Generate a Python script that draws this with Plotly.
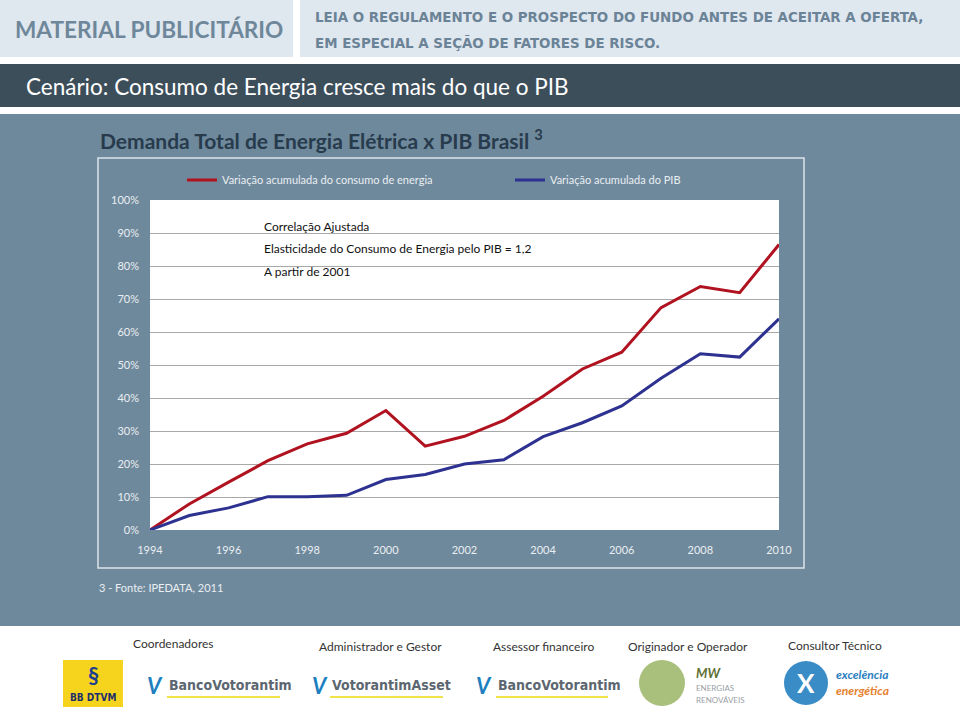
import plotly.graph_objects as go

# ---------------- data ----------------
years = list(range(1994, 2011))
energia = [0, 7.9, 14.5, 21.0, 26.1, 29.3, 36.2, 25.4, 28.4, 33.2, 40.5, 48.8, 53.9, 67.4, 73.8, 71.9, 86.5]
pib = [0, 4.4, 6.7, 10.1, 10.1, 10.5, 15.3, 16.8, 20.0, 21.3, 28.3, 32.5, 37.6, 46.0, 53.4, 52.4, 64.0]
series_names = ["Variação acumulada do consumo de energia", "Variação acumulada do PIB"]
y_tick_vals = list(range(0, 101, 10))
y_tick_text = [f"{v}%" for v in y_tick_vals]
grid_vals = list(range(10, 100, 10))
x_tick_vals = list(range(1994, 2011, 2))
notes = ["Correlação Ajustada", "Elasticidade do Consumo de Energia pelo PIB = 1,2", "A partir de 2001"]

W, H = 960, 710
def px(x):
    return x / W
def py(y):
    return 1 - y / H

FONT = "Lato"
NARROW = "DejaVu Sans Condensed"
PANEL = "#6f899c"
HEAD_BG = "#dfe7ef"
DARK = "#3d4e5b"
LIGHT_TXT = "#e9eef2"
RED = "#b01220"
BLUE = "#2d3190"

fig = go.Figure()
fig.add_trace(go.Scatter(x=years, y=energia, mode="lines", name=series_names[0],
                         line=dict(color=RED, width=3), yaxis="y"))
fig.add_trace(go.Scatter(x=years, y=pib, mode="lines", name=series_names[1],
                         line=dict(color=BLUE, width=3), yaxis="y2"))

shapes = []
def rect(x0, y0, x1, y1, fill, line=None, lw=0):
    shapes.append(dict(type="rect", xref="paper", yref="paper", x0=px(x0), x1=px(x1),
                       y0=py(y1), y1=py(y0), fillcolor=fill,
                       line=dict(color=line or "rgba(0,0,0,0)", width=lw), layer="below"))

# header
rect(0, 0, 293, 57, HEAD_BG)
rect(300, 0, 960, 57, HEAD_BG)
rect(0, 64, 960, 107, DARK)
# steel panel
rect(0, 114, 960, 626, PANEL)
# chart outline box
rect(98, 158, 804, 568, "rgba(0,0,0,0)", line="#dce4ea", lw=1.5)
# white plot area
rect(150, 200, 779, 530, "#ffffff")

# footer logos (approximations)
rect(63, 660, 123, 707, "#f6d31c")
shapes.append(dict(type="circle", xref="paper", yref="paper", x0=px(639), x1=px(685),
                   y0=py(706), y1=py(660), fillcolor="#a9bf7c", line=dict(width=0), layer="below"))
shapes.append(dict(type="circle", xref="paper", yref="paper", x0=px(784), x1=px(828),
                   y0=py(705), y1=py(661), fillcolor="#3a8cc6", line=dict(width=0), layer="below"))
shapes.append(dict(type="path", xref="paper", yref="paper",
                   path=f"M {px(806)} {py(661)} A 1 1 0 0 1 {px(806)} {py(705)} Z",
                   fillcolor="#e8873a", line=dict(width=0), layer="below"))
for x0, x1 in [(167, 280), (330, 443), (496, 608)]:
    rect(x0, 696, x1, 698, "#f1e44a")

annotations = []
def text(x, y, s, size, color, family=FONT, xanchor="left", bold=False, italic=False, yanchor="middle"):
    annotations.append(dict(x=px(x), y=py(y), xref="paper", yref="paper", text=s,
                            showarrow=False, xanchor=xanchor, yanchor=yanchor,
                            font=dict(size=size, color=color, family=family,
                                      weight="bold" if bold else "normal",
                                      style="italic" if italic else "normal")))

text(13, 30, "MATERIAL PUBLICITÁRIO", 22.6, "#6f879a", bold=True)
text(313, 17, "LEIA O REGULAMENTO E O PROSPECTO DO FUNDO ANTES DE ACEITAR A OFERTA,", 14.9, "#6b8396", family=NARROW, bold=True)
text(313, 43, "EM ESPECIAL A SEÇÃO DE FATORES DE RISCO.", 14.9, "#6b8396", family=NARROW, bold=True)
text(24, 86, "Cenário: Consumo de Energia cresce mais do que o PIB", 22.5, "#ffffff")
text(98, 139, "Demanda Total de Energia Elétrica x PIB Brasil <sup>3</sup>", 21, "#273b4c", bold=True)
text(97, 587, "3 - Fonte: IPEDATA, 2011", 11, LIGHT_TXT)

for i, s in enumerate(notes):
    text(262, 226 + 23 * i, s, 12, "#111111")

# footer texts
text(173, 643, "Coordenadores", 12, "#333333", xanchor="center")
text(380, 646, "Administrador e Gestor", 12, "#333333", xanchor="center")
text(543, 646, "Assessor financeiro", 12, "#333333", xanchor="center")
text(688, 646, "Originador e Operador", 12, "#333333", xanchor="center")
text(835, 645, "Consultor Técnico", 12, "#333333", xanchor="center")

text(93, 697, "BB DTVM", 10, "#1d2f6b", xanchor="center", bold=True, family=NARROW)
text(93, 675, "§", 22, "#1d3f8f", xanchor="center", bold=True)
for vx, tx, s in [(145, 167, "BancoVotorantim"), (310, 330, "VotorantimAsset"), (474, 496, "BancoVotorantim")]:
    text(vx, 685, "V", 22, "#1d7fbf", bold=True, italic=True)
    text(tx, 685, s, 14, "#5c6670", bold=True, family=NARROW)
text(694, 673, "MW", 13, "#5d7035", bold=True, italic=True)
text(694, 688, "ENERGIAS", 8, "#9aa0a6")
text(694, 700, "RENOVÁVEIS", 8, "#9aa0a6")
text(806, 683, "X", 26, "#ffffff", xanchor="center", bold=True)
text(834, 674, "excelência", 12, "#2c7fbf", bold=True, italic=True)
text(834, 690, "energética", 12, "#e57f2c", bold=True, italic=True)

fig.update_layout(
    width=W, height=H, autosize=False,
    margin=dict(l=0, r=0, t=0, b=0, pad=0, autoexpand=False),
    paper_bgcolor="#ffffff", plot_bgcolor="rgba(0,0,0,0)",
    shapes=shapes, annotations=annotations,
    font=dict(family=FONT, size=11, color=LIGHT_TXT),
    showlegend=True,
    legend=dict(orientation="h", x=px(182), y=py(180), xanchor="left", yanchor="middle",
                bgcolor="rgba(0,0,0,0)", font=dict(size=11, color=LIGHT_TXT, family=FONT),
                entrywidth=283, entrywidthmode="pixels", traceorder="normal", itemwidth=30),
    xaxis=dict(domain=[px(150), px(779)], range=[1994, 2010], tickvals=x_tick_vals,
               showgrid=False, zeroline=False, showline=False, ticks="", automargin=False,
               tickfont=dict(size=11, color=LIGHT_TXT), ticklabelstandoff=12, fixedrange=True),
    yaxis=dict(domain=[py(530), py(200)], range=[0, 100], tickvals=y_tick_vals, ticktext=y_tick_text,
               showgrid=False, zeroline=False, showline=False, ticks="", automargin=False,
               tickfont=dict(size=11, color=LIGHT_TXT), ticklabelstandoff=10, fixedrange=True),
    yaxis2=dict(overlaying="y", anchor="x", range=[0, 100], tickvals=grid_vals,
                showgrid=True, gridcolor="#a8a8a8", gridwidth=1, showticklabels=False,
                zeroline=False, showline=False, ticks="", automargin=False, fixedrange=True),
)

fig.write_html("out.html", config={"displayModeBar": False},
               post_script="document.body.style.margin='0';document.body.style.padding='0';"
                           "document.body.style.overflow='hidden';")
